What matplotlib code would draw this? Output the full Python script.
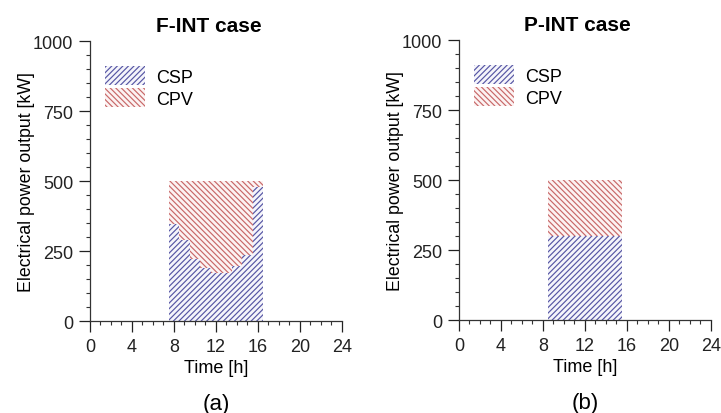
import matplotlib.pyplot as plt
from matplotlib.ticker import MultipleLocator

plt.rcParams['font.family'] = ['Liberation Sans', 'DejaVu Sans']
plt.rcParams['hatch.linewidth'] = 0.85

# hourly operation (bar centred on the hour)
hours_f = [8, 9, 10, 11, 12, 13, 14, 15, 16]
csp_f = [345, 290, 220, 190, 172, 172, 195, 235, 480]
total_f = [500, 500, 500, 500, 500, 500, 500, 500, 500]

hours_p = [9, 10, 11, 12, 13, 14, 15]
csp_p = [300, 300, 300, 300, 300, 300, 300]
total_p = [500, 500, 500, 500, 500, 500, 500]

titles = ["F-INT case", "P-INT case"]
panel_tags = ["(a)", "(b)"]

CSP_COL = "#5656a4"
CPV_COL = "#c86868"


def draw_panel(ax, hours, csp, total, title, tag):
    cpv = [t - c for t, c in zip(total, csp)]
    ax.bar(hours, csp, width=1.0, facecolor="#f5f5fb", edgecolor=CSP_COL,
           linewidth=0, hatch="//////", label="CSP")
    ax.bar(hours, cpv, bottom=csp, width=1.0, facecolor="#fcf3f3",
           edgecolor=CPV_COL, linewidth=0, hatch="\\\\\\\\\\\\", label="CPV")

    ax.set_xlim(0, 24)
    ax.set_ylim(0, 1000)
    ax.xaxis.set_major_locator(MultipleLocator(4))
    ax.xaxis.set_minor_locator(MultipleLocator(1))
    ax.yaxis.set_major_locator(MultipleLocator(250))
    ax.yaxis.set_minor_locator(MultipleLocator(50))
    ax.tick_params(which="major", direction="out", length=8, width=0.9,
                   labelsize=13, colors="#222222", pad=4)
    ax.tick_params(which="minor", direction="out", length=3, width=0.8,
                   colors="#333333")
    for s in ["top", "right"]:
        ax.spines[s].set_visible(False)
    for s in ["left", "bottom"]:
        ax.spines[s].set_linewidth(0.9)
        ax.spines[s].set_color("#333333")

    ax.set_xlabel("Time [h]", fontsize=13, labelpad=3)
    ax.set_ylabel("Electrical power output [kW]", fontsize=12.8, labelpad=-1.5)
    ax.set_title(title, fontsize=15, fontweight="bold", pad=7, x=0.47)
    ax.text(0.5, -0.295, tag, transform=ax.transAxes, ha="center",
            va="center", fontsize=16)
    ax.legend(loc="upper left", bbox_to_anchor=(0.06, 0.91), frameon=False,
              fontsize=13, handlelength=2.2, handleheight=1.2,
              labelspacing=0.15, handletextpad=0.6, borderaxespad=0,
              borderpad=0)


fig = plt.figure(figsize=(7.21, 4.14), dpi=100)
ax1 = fig.add_axes([0.1248, 0.2222, 0.3495, 0.676])
ax2 = fig.add_axes([0.6366, 0.2246, 0.3495, 0.676])

draw_panel(ax1, hours_f, csp_f, total_f, titles[0], panel_tags[0])
draw_panel(ax2, hours_p, csp_p, total_p, titles[1], panel_tags[1])

fig.savefig("out.png", dpi=100)
